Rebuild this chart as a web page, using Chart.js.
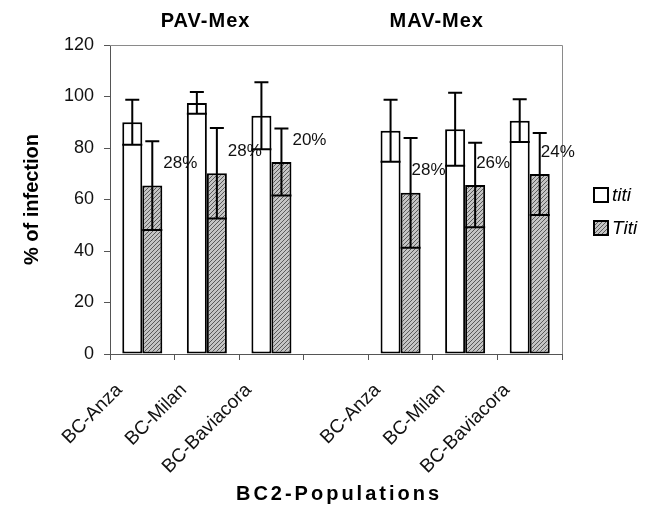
<!DOCTYPE html>
<html>
<head>
<meta charset="utf-8">
<script src="https://cdn.jsdelivr.net/npm/chart.js@4"></script>
<style>
  html, body { margin: 0; padding: 0; background: #fff; }
  #wrap { width: 654px; height: 509px; }
</style>
</head>
<body>
<div id="wrap"><canvas id="chart" width="654" height="509"></canvas></div>
<script>
// Datos
const categories = ['BC-Anza', 'BC-Milan', 'BC-Baviacora', '', 'BC-Anza', 'BC-Milan', 'BC-Baviacora'];
const titiValues = [90, 97.5, 92.5, null, 86.7, 87.3, 90.6];
const titiErrors = [8.7, 4.2, 13, null, 12, 14.2, 8.3];
const TitiValues = [65.4, 70.2, 74.6, null, 62.6, 65.6, 69.9];
const TitiErrors = [17.2, 17.6, 13, null, 21.3, 16.4, 15.9];
const reductionLabels = ['28%', '28%', '20%', '', '28%', '26%', '24%'];
const groupTitles = ['PAV-Mex', 'MAV-Mex'];
const seriesNames = ['titi', 'Titi'];
const xAxisTitle = 'BC2-Populations';

const FONT = "'Liberation Sans', Arial, sans-serif";

// Trama gris rayada para la serie Titi
function makeHatch() {
    const c = document.createElement('canvas');
    c.width = 4; c.height = 4;
    const g = c.getContext('2d');
    g.fillStyle = '#c4c4c4';
    g.fillRect(0, 0, 4, 4);
    g.strokeStyle = '#5a5a5a';
    g.lineWidth = 1;
    g.beginPath();
    g.moveTo(-1, 5); g.lineTo(5, -1);
    g.moveTo(-1, 1); g.lineTo(1, -1);
    g.moveTo(3, 5); g.lineTo(5, 3);
    g.stroke();
    return g.createPattern(c, 'repeat');
}

const ctx = document.getElementById('chart').getContext('2d');
const hatch = makeHatch();

const errorBars = {
    id: 'errorBars',
    afterDatasetsDraw(chart) {
        const c = chart.ctx;
        const y = chart.scales.y;
        const errs = [titiErrors, TitiErrors];
        c.save();
        c.strokeStyle = '#000';
        c.lineWidth = 2;
        chart.data.datasets.forEach((ds, di) => {
            const meta = chart.getDatasetMeta(di);
            meta.data.forEach((bar, i) => {
                const v = ds.data[i];
                if (v === null) return;
                const e = errs[di][i];
                const top = y.getPixelForValue(v + e);
                const low = y.getPixelForValue(v - e);
                c.beginPath();
                c.moveTo(bar.x, low); c.lineTo(bar.x, top);
                c.moveTo(bar.x - 7, top); c.lineTo(bar.x + 7, top);
                c.moveTo(bar.x - bar.width / 2, low); c.lineTo(bar.x + bar.width / 2, low);
                c.stroke();
            });
        });
        c.restore();
    }
};

const annotations = {
    id: 'annotations',
    afterDraw(chart) {
        const c = chart.ctx;
        const a = chart.chartArea;
        const y = chart.scales.y;
        const x = chart.scales.x;
        c.save();
        // marco superior y derecho
        c.strokeStyle = '#8a8a8a';
        c.lineWidth = 1;
        c.beginPath();
        c.moveTo(a.left, a.top + 0.5); c.lineTo(a.right + 0.5, a.top + 0.5);
        c.lineTo(a.right + 0.5, a.bottom);
        c.stroke();

        // porcentajes
        const meta = chart.getDatasetMeta(1);
        c.fillStyle = '#111';
        c.font = '17px ' + FONT;
        c.textAlign = 'left';
        c.textBaseline = 'middle';
        meta.data.forEach((bar, i) => {
            if (!reductionLabels[i]) return;
            const off = i < 3 ? 11 : 1;
            c.fillText(reductionLabels[i], bar.x + off, y.getPixelForValue(TitiValues[i]) - 22);
        });

        // títulos de grupo
        c.font = 'bold 20px ' + FONT;
        c.letterSpacing = '1px';
        c.textAlign = 'center';
        c.fillStyle = '#000';
        c.fillText(groupTitles[0], x.getPixelForValue(0.98), 21);
        c.fillText(groupTitles[1], x.getPixelForValue(4.56), 21);

        // título del eje X
        c.letterSpacing = '3px';
        c.fillText(xAxisTitle, 339, 494);
        c.letterSpacing = '0px';

        // leyenda
        const fills = ['#fff', hatch];
        c.font = 'italic 19px ' + FONT;
        c.textAlign = 'left';
        seriesNames.forEach((name, i) => {
            const cy = 195 + i * 33;
            c.fillStyle = fills[i];
            c.fillRect(594, cy - 7, 14, 14);
            c.strokeStyle = '#000';
            c.lineWidth = 2;
            c.strokeRect(594, cy - 7, 14, 14);
            c.fillStyle = '#000';
            c.fillText(name, 612, cy + 1);
        });
        c.restore();
    }
};

new Chart(ctx, {
    type: 'bar',
    data: {
        labels: categories,
        datasets: [
            {
                label: seriesNames[0],
                data: titiValues,
                backgroundColor: '#fff',
                borderColor: '#000',
                borderWidth: 2,
                borderSkipped: false,
                categoryPercentage: 0.62,
                barPercentage: 1
            },
            {
                label: seriesNames[1],
                data: TitiValues,
                backgroundColor: hatch,
                borderColor: '#000',
                borderWidth: 2,
                borderSkipped: false,
                categoryPercentage: 0.62,
                barPercentage: 1
            }
        ]
    },
    options: {
        responsive: false,
        animation: false,
        devicePixelRatio: 1,
        layout: {
            padding: { left: 0, right: 92, top: 45, bottom: 0 }
        },
        plugins: {
            legend: { display: false },
            tooltip: { enabled: false }
        },
        scales: {
            x: {
                offset: true,
                grid: {
                    offset: true,
                    drawOnChartArea: false,
                    tickLength: 6,
                    color: '#555'
                },
                border: { color: '#555' },
                ticks: {
                    maxRotation: 45,
                    minRotation: 45,
                    padding: 19,
                    labelOffset: -23,
                    color: '#111',
                    font: { family: FONT, size: 19 }
                },
                afterFit(scale) { scale.height = 155; }
            },
            y: {
                min: 0,
                max: 120,
                grid: {
                    drawOnChartArea: false,
                    tickLength: 6,
                    color: '#555'
                },
                border: { color: '#555' },
                ticks: {
                    stepSize: 20,
                    padding: 10,
                    color: '#111',
                    font: { family: FONT, size: 18 }
                },
                title: {
                    display: true,
                    text: '% of infection',
                    color: '#000',
                    font: { family: FONT, size: 20, weight: 'bold' },
                    padding: { top: 20, bottom: 0 }
                },
                afterFit(scale) { scale.width = 110; }
            }
        }
    },
    plugins: [errorBars, annotations]
});
</script>
</body>
</html>
